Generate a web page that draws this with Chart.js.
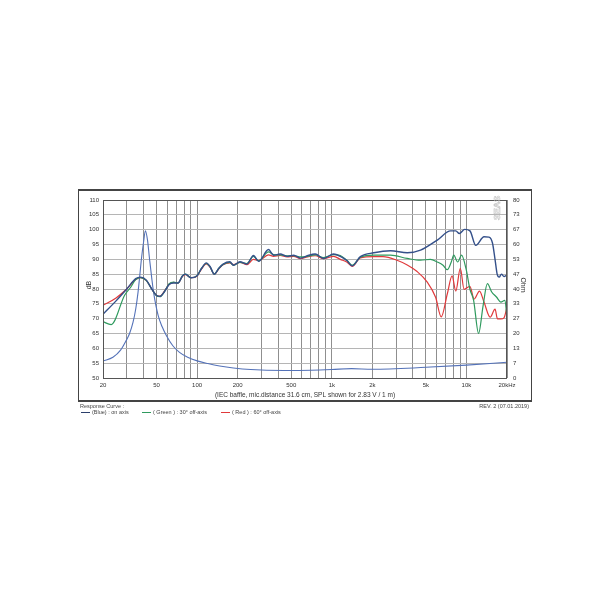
<!DOCTYPE html>
<html>
<head>
<meta charset="utf-8">
<script src="https://cdn.jsdelivr.net/npm/chart.js@4"></script>
<style>
  body { margin: 0; background: #fff; }
  canvas { display: block; }
</style>
</head>
<body>
<canvas id="grafico" width="610" height="610"></canvas>
<script>
// === DADOS ===
const freqTicks = [20,30,40,50,60,70,80,90,100,200,300,400,500,600,700,800,900,
  1000,2000,3000,4000,5000,6000,7000,8000,9000,10000,20000];
const freqLabels = {20:'20',50:'50',100:'100',200:'200',500:'500',1000:'1k',2000:'2k',5000:'5k',10000:'10k',20000:'20kHz'};
const ohmTicks = [0,7,13,20,27,33,40,47,53,60,67,73,80];

// on axis (Blue)
const freqOn = [20,25,30,35,38,42,46,50,53,57,62,67,72,78,82,90,100,108,117,125,134,145,156,175,186,
  208,234,262,286,339,369,414,465,522,586,658,753,869,1032,1157,1300,1416,1630,2049,2729,
  3633,4561,6075,7625,8337,8852,9700,10616,11720,13500,14700,15600,16300,16900,17500,18200,19000,20000];
const splOn = [71.5,76,80,83.5,84,83,80,77.8,77.5,79,81.5,82,82,84.5,85,83.8,84.5,87,88.8,87.5,85,87,88.4,89.2,88,
  89.2,88.4,91.3,89.3,93.3,91.4,91.8,91,91.4,90.4,91.2,91.8,90.3,91.8,91,89.5,87.8,90.9,92.2,92.9,
  92.2,93.1,96.5,99.6,99.6,98.7,100.1,99.6,94.7,97.6,97.5,95.5,90,85,84,85,84.2,84.8];

// 30° off-axis (Green)
const freq30 = [20,23,29,32,35,38,42,46,50,53,57,62,67,72,78,82,90,100,108,117,125,134,145,156,175,
  186,208,234,262,286,339,369,414,465,522,586,658,753,869,1032,1157,1300,1416,1630,2049,
  2729,3633,4561,5400,6075,6700,7210,7700,8055,8600,9200,9960,10600,11300,12300,13300,14300,15400,16700,18000,19300,20000];
const spl30 = [69,68,78,80.5,83.2,83.8,82.8,80,77.7,77.4,79,81.8,82.3,82,84.5,85,83.8,84.5,87,88.6,87.4,85,87,88.3,89,
  88,89,88.6,91,89.5,92.5,91.6,91.5,91.2,91.2,90.8,91,91.5,90.6,91.6,91.3,89.6,88,90.7,91.4,
  91.4,90.3,89.7,90,89.1,88,86.5,89,91.4,89.1,91.4,86.5,80,76.2,65,74.5,81.8,79,77.3,75.6,76.2,70];

// 60° off-axis (Red)
const freq60 = [20,25,30,35,38,42,46,50,53,57,62,67,72,78,82,90,100,108,117,125,134,145,156,175,186,
  208,234,262,286,339,369,414,465,522,586,658,753,869,1032,1157,1300,1416,1630,2049,2400,
  3050,3633,4300,5100,5900,6500,7210,7820,8337,9000,9600,10600,11400,12500,13500,15000,16300,17000,18000,19000,20000];
const spl60 = [74.5,77,80,83.2,83.8,82.8,80,77.8,77.6,79.2,81.6,82.2,82,84.3,84.8,83.8,84.4,86.8,88.5,87.3,85,86.8,88.2,88.8,88.2,
  89,88.2,90,89.6,91.5,91,91.3,90.8,91,90.2,90.8,91.2,90.2,91,90,89,87.6,90.5,90.9,90.9,
  89.7,88.1,85.9,82.4,77.2,70.6,78.4,84.4,79.3,87,79.9,80.9,76.6,79.3,75.6,70.5,73.2,69.9,69.9,70.3,74];

// impedância (Ohm)
const freqZ = [20,23.7,27,29.7,31.5,33.4,35,36.4,37.5,38.6,40,41.3,42.8,44.3,46,47.5,51.4,55,59.2,66,
  74,85,100,120,147,186,250,440,700,1000,1400,2000,5000,10000,20000];
const impZ = [7.6,9.3,12.5,16.8,20,25,31,38.5,46,53.6,61,66.2,62,53.6,45,38.5,28,23,19,14.5,
  11.5,9.3,7.7,6.5,5.4,4.5,3.8,3.4,3.5,3.8,4.2,3.9,4.8,5.8,7.1];

const pontos = (fx, fy) => fx.map((f, i) => ({ x: f, y: fy[i] }));
const fonte = '"Liberation Sans", Arial, sans-serif';

// === TEXTOS E MOLDURA ===
const moldura = {
  id: 'moldura',
  afterDraw(chart) {
    const ctx = chart.ctx;
    const a = chart.chartArea;
    ctx.save();
    // borda do gráfico
    ctx.strokeStyle = '#555';
    ctx.lineWidth = 1;
    ctx.strokeRect(a.left + 0.5, a.top + 0.5, a.right - a.left - 1, a.bottom - a.top);
    // moldura externa
    ctx.strokeStyle = '#444';
    ctx.strokeRect(78.5, 190.5, 453, 211);
    ctx.lineWidth = 2;
    ctx.beginPath(); ctx.moveTo(78, 190); ctx.lineTo(532, 190); ctx.stroke();
    ctx.beginPath(); ctx.moveTo(78, 401); ctx.lineTo(532, 401); ctx.stroke();

    ctx.fillStyle = '#333';
    ctx.textBaseline = 'middle';
    // dB
    ctx.font = '7px ' + fonte;
    ctx.save(); ctx.translate(89, 285); ctx.rotate(-Math.PI / 2);
    ctx.textAlign = 'center'; ctx.fillText('dB', 0, 0); ctx.restore();
    // Ohm
    ctx.save(); ctx.translate(523, 285); ctx.rotate(Math.PI / 2);
    ctx.textAlign = 'center'; ctx.fillText('Ohm', 0, 0); ctx.restore();
    // logo
    ctx.save(); ctx.translate(498, 208); ctx.rotate(-Math.PI / 2);
    ctx.font = 'bold 9px ' + fonte; ctx.textAlign = 'center';
    ctx.strokeStyle = '#bbb'; ctx.lineWidth = 0.5; ctx.strokeText('SEAS', 0, 0); ctx.restore();

    // legenda do eixo
    ctx.font = '6.5px ' + fonte;
    ctx.textAlign = 'center';
    ctx.fillText('(IEC baffle, mic.distance 31.6 cm, SPL shown for 2.83 V / 1 m)', 305, 395);

    ctx.font = '5.5px ' + fonte;
    ctx.textAlign = 'left';
    ctx.fillStyle = '#444';
    ctx.fillText('Response Curve :', 80, 406);
    ctx.textAlign = 'right';
    ctx.fillText('REV. 2 (07.01.2019)', 529, 406);
    ctx.textAlign = 'left';
    const itens = [
      { x: 81, cor: '#2b3f6b', txt: '(Blue) : on axis' },
      { x: 142, cor: '#2f9a5e', txt: '( Green ) : 30° off-axis' },
      { x: 221, cor: '#e0393b', txt: '( Red ) : 60° off-axis' }
    ];
    itens.forEach(it => {
      ctx.strokeStyle = it.cor; ctx.lineWidth = 1;
      ctx.beginPath(); ctx.moveTo(it.x, 412.5); ctx.lineTo(it.x + 9, 412.5); ctx.stroke();
      ctx.fillText(it.txt, it.x + 11, 412.5);
    });
    ctx.restore();
  }
};

// === GRÁFICO ===
// o primeiro dataset fica por cima
new Chart(document.getElementById('grafico'), {
  type: 'line',
  data: {
    datasets: [
      { label: 'on axis', data: pontos(freqOn, splOn), borderColor: '#34508a', borderWidth: 1.4 },
      { label: '30° off-axis', data: pontos(freq30, spl30), borderColor: '#2f9a5e', borderWidth: 1.2 },
      { label: '60° off-axis', data: pontos(freq60, spl60), borderColor: '#e0393b', borderWidth: 1.2 },
      { label: 'Impedance', data: pontos(freqZ, impZ), yAxisID: 'y1', borderColor: '#5472b8', borderWidth: 1.1 }
    ]
  },
  options: {
    responsive: false,
    animation: false,
    events: [],
    elements: { point: { radius: 0 }, line: { cubicInterpolationMode: 'monotone', fill: false } },
    layout: { padding: { top: 200, right: 0, left: 0, bottom: 0 } },
    plugins: { legend: { display: false }, tooltip: { enabled: false } },
    scales: {
      x: {
        type: 'logarithmic',
        min: 20, max: 20000,
        afterBuildTicks: s => { s.ticks = freqTicks.map(v => ({ value: v })); },
        afterFit: s => { s.height = 232; },
        grid: { color: '#8f8f8f', lineWidth: 1, drawTicks: false },
        border: { display: false },
        ticks: {
          autoSkip: false, maxRotation: 0, padding: 4,
          color: '#333', font: { size: 6, family: fonte },
          callback: v => freqLabels[v] || ''
        }
      },
      y: {
        position: 'left',
        min: 50, max: 110,
        afterFit: s => { s.width = 103; },
        grid: { color: '#b5b5b5', lineWidth: 1, drawTicks: false },
        border: { display: false },
        ticks: { stepSize: 5, padding: 4, color: '#333', font: { size: 6, family: fonte } }
      },
      y1: {
        position: 'right',
        min: 0, max: 80,
        afterBuildTicks: s => { s.ticks = ohmTicks.map((v, i) => ({ value: i * 80 / 12, label: v })); },
        afterFit: s => { s.width = 103; },
        grid: { drawOnChartArea: false, drawTicks: false },
        border: { display: false },
        ticks: {
          padding: 6, color: '#333', font: { size: 6, family: fonte },
          callback: v => String(Math.round(v))
        }
      }
    }
  },
  plugins: [moldura]
});
</script>
</body>
</html>
